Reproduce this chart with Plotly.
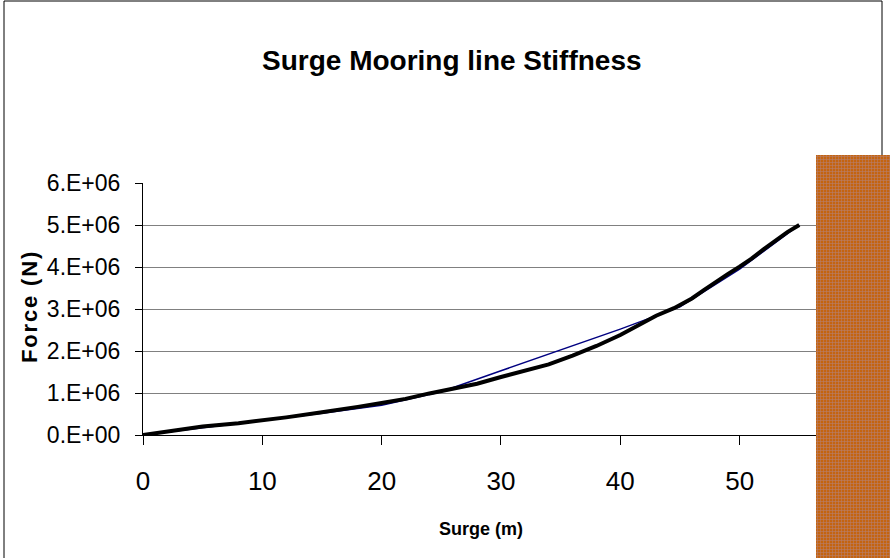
import plotly.graph_objects as go

# Measured restoring force of the mooring lines versus surge offset
surge_measured = [0, 2, 4, 5, 8, 10, 12, 15, 16, 18, 20, 22, 24, 26, 28, 30, 31, 32,
                  34, 36, 38, 40, 42, 43, 44.5, 46, 47, 48, 49, 50, 51, 52, 53, 54, 55]
force_measured = [0, 0.08e6, 0.16e6, 0.20e6, 0.28e6, 0.34e6, 0.42e6, 0.54e6, 0.59e6,
                  0.67e6, 0.76e6, 0.86e6, 0.99e6, 1.10e6, 1.22e6, 1.38e6, 1.45e6, 1.52e6,
                  1.68e6, 1.89e6, 2.12e6, 2.38e6, 2.70e6, 2.84e6, 3.02e6, 3.25e6, 3.45e6,
                  3.65e6, 3.83e6, 4.01e6, 4.20e6, 4.42e6, 4.63e6, 4.83e6, 5.00e6]

# Piecewise stiffness model
surge_model = [0, 5, 10, 15, 20, 25, 30, 35, 40, 45, 50, 55]
force_model = [0, 0.17e6, 0.34e6, 0.52e6, 0.71e6, 1.03e6, 1.53e6, 2.02e6, 2.52e6,
               3.05e6, 3.95e6, 5.00e6]

x_ticks = [0, 10, 20, 30, 40, 50]
y_ticks = [0, 1e6, 2e6, 3e6, 4e6, 5e6, 6e6]
y_tick_text = ["0.E+00", "1.E+06", "2.E+06", "3.E+06", "4.E+06", "5.E+06", "6.E+06"]

W, H = 890, 558
FONT = "Liberation Sans, Arial, sans-serif"

fig = go.Figure()

fig.add_trace(go.Scatter(x=surge_model, y=force_model, mode="lines",
                         line=dict(color="#000080", width=1.5), hoverinfo="skip"))
fig.add_trace(go.Scatter(x=surge_measured, y=force_measured, mode="lines",
                         line=dict(color="#000000", width=4), hoverinfo="skip"))

# Hatched legend panel on the right edge
fig.add_trace(go.Scatter(x=[0, 1, 1, 0, 0], y=[0, 0, 1, 1, 0], xaxis="x2", yaxis="y2",
                         mode="lines", line=dict(width=0), fill="toself",
                         fillcolor="#c46410",
                         fillpattern=dict(shape="+", size=3, solidity=0.35,
                                          bgcolor="#c46410", fgcolor="#a898cc"),
                         hoverinfo="skip"))

fig.update_layout(
    width=W, height=H,
    margin=dict(l=0, r=0, t=0, b=0, pad=0, autoexpand=False),
    paper_bgcolor="white", plot_bgcolor="white",
    showlegend=False,
    xaxis=dict(domain=[143 / W, 816 / W], range=[0, 56.4], automargin=False,
               tickvals=x_ticks, ticks="outside", ticklen=9, tickcolor="black",
               showline=True, linecolor="black", linewidth=1,
               showgrid=False, zeroline=False,
               tickfont=dict(family=FONT, size=26, color="black"),
               ticklabelstandoff=14, fixedrange=True),
    yaxis=dict(domain=[1 - 435 / H, 1 - 183 / H], range=[0, 6e6], automargin=False,
               tickvals=y_ticks, ticktext=y_tick_text,
               ticks="outside", ticklen=7, tickcolor="black",
               showline=True, linecolor="black", linewidth=1,
               showgrid=True, gridcolor="#808080", gridwidth=1, zeroline=False,
               tickfont=dict(family=FONT, size=23, color="black"),
               ticklabelstandoff=10, fixedrange=True),
    xaxis2=dict(domain=[816 / W, 1], range=[0, 1], visible=False, fixedrange=True,
                automargin=False),
    yaxis2=dict(domain=[0, 1 - 155 / H], range=[0, 1], visible=False, fixedrange=True,
                anchor="x2", automargin=False),
    annotations=[
        dict(text="<b>Surge Mooring line Stiffness</b>", xref="paper", yref="paper",
             x=452 / W, y=1 - 60 / H, xanchor="center", yanchor="middle",
             showarrow=False, font=dict(family=FONT, size=28, color="black")),
        dict(text="<b>Surge (m)</b>", xref="paper", yref="paper",
             x=481 / W, y=1 - 529 / H, xanchor="center", yanchor="middle",
             showarrow=False, font=dict(family=FONT, size=18, color="black")),
        dict(text="<b>F\u200ao\u200ar\u200ac\u200ae\u200a \u200a(\u200aN\u200a)</b>",
             xref="paper", yref="paper",
             x=29 / W, y=1 - 308 / H, xanchor="center", yanchor="middle",
             textangle=-90, showarrow=False,
             font=dict(family=FONT, size=22, color="black")),
    ],
    shapes=[
        dict(type="rect", xref="paper", yref="paper", x0=4 / W, x1=882 / W,
             y0=-0.05, y1=1 - 1 / H, line=dict(color="black", width=1),
             layer="below"),
    ],
)

fig.write_html("out.html", config={"displayModeBar": False, "staticPlot": True})
